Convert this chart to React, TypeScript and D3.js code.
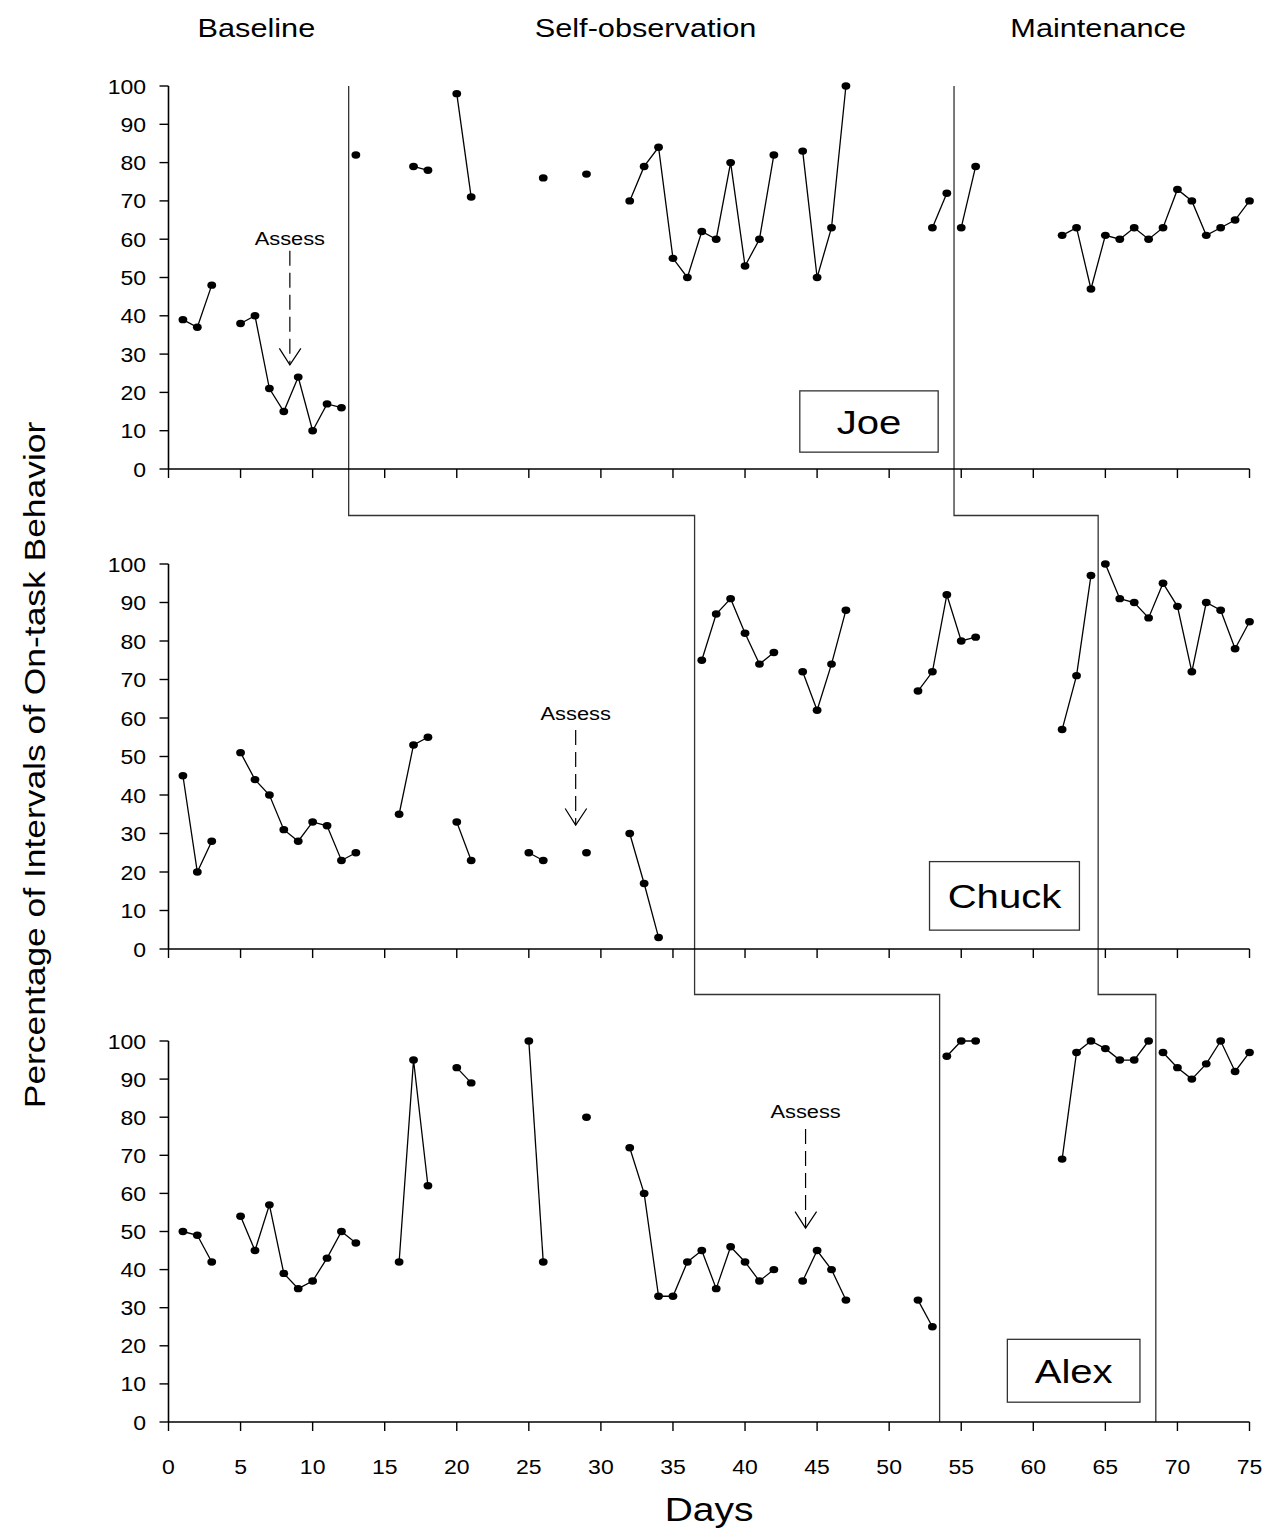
import React, { useEffect, useRef } from "react";
import * as d3 from "d3";

// ---------- data ----------
const phaseLabels = ["Baseline", "Self-observation", "Maintenance"];
const phaseLabelDays = [6.1, 33.1, 64.5];
const xTicks = [0, 5, 10, 15, 20, 25, 30, 35, 40, 45, 50, 55, 60, 65, 70, 75];
const yTicks = [0, 10, 20, 30, 40, 50, 60, 70, 80, 90, 100];

const joeDays = [1, 2, 3, 5, 6, 7, 8, 9, 10, 11, 12, 13, 17, 18, 20, 21, 26, 29, 32, 33, 34, 35, 36, 37, 38, 39, 40, 41, 42, 44, 45, 46, 47, 53, 54, 55, 56, 62, 63, 64, 65, 66, 67, 68, 69, 70, 71, 72, 73, 74, 75];
const joeValues = [39, 37, 48, 38, 40, 21, 15, 24, 10, 17, 16, 82, 79, 78, 98, 71, 76, 77, 70, 79, 84, 55, 50, 62, 60, 80, 53, 60, 82, 83, 50, 63, 100, 63, 72, 63, 79, 61, 63, 47, 61, 60, 63, 60, 63, 73, 70, 61, 63, 65, 70];
const joePhaseChanges = [12.5, 54.5];

const chuckDays = [1, 2, 3, 5, 6, 7, 8, 9, 10, 11, 12, 13, 16, 17, 18, 20, 21, 25, 26, 29, 32, 33, 34, 37, 38, 39, 40, 41, 42, 44, 45, 46, 47, 52, 53, 54, 55, 56, 62, 63, 64, 65, 66, 67, 68, 69, 70, 71, 72, 73, 74, 75];
const chuckValues = [45, 20, 28, 51, 44, 40, 31, 28, 33, 32, 23, 25, 35, 53, 55, 33, 23, 25, 23, 25, 30, 17, 3, 75, 87, 91, 82, 74, 77, 72, 62, 74, 88, 67, 72, 92, 80, 81, 57, 71, 97, 100, 91, 90, 86, 95, 89, 72, 90, 88, 78, 85];
const chuckPhaseChanges = [36.5, 64.5];

const alexDays = [1, 2, 3, 5, 6, 7, 8, 9, 10, 11, 12, 13, 16, 17, 18, 20, 21, 25, 26, 29, 32, 33, 34, 35, 36, 37, 38, 39, 40, 41, 42, 44, 45, 46, 47, 52, 53, 54, 55, 56, 62, 63, 64, 65, 66, 67, 68, 69, 70, 71, 72, 73, 74, 75];
const alexValues = [50, 49, 42, 54, 45, 57, 39, 35, 37, 43, 50, 47, 42, 95, 62, 93, 89, 100, 42, 80, 72, 60, 33, 33, 42, 45, 35, 46, 42, 37, 40, 37, 45, 40, 32, 32, 25, 96, 100, 100, 69, 97, 100, 98, 95, 95, 100, 97, 93, 90, 94, 100, 92, 97];
const alexPhaseChanges = [53.5, 68.5];

const names = ["Joe", "Chuck", "Alex"];
// assess annotations: [day, label value, arrow start value, arrow tip value]
const assessDays = [8.42, 28.25, 44.2];
const assessLabelValues = [58.5, 59.5, 79.9];
const assessStartValues = [57, 56.9, 76.9];
const assessTipValues = [27.2, 32.2, 50.9];
// name boxes in data units: [day0, day1, value top, value bottom]
const nameBoxDays = [[43.8, 53.4], [52.8, 63.2], [58.2, 67.4]];
const nameBoxValues = [[20.4, 4.4], [22.7, 4.9], [21.7, 5.2]];

// ---------- layout ----------
const W = 1275;
const H = 1531;
const FONT = "'Liberation Sans', Arial, Helvetica, sans-serif";
const SX = 1.18;
const panelTops = [86, 564, 1041];
const panelBottoms = [469, 949, 1422];
const connectorYs = [515.5, 994.5];

function segments(days: number[], vals: number[], phases: number[]) {
  const segs: [number, number][][] = [];
  let cur: [number, number][] = [];
  days.forEach((d, i) => {
    if (i > 0) {
      const prev = days[i - 1];
      const crosses = phases.some((p) => p > prev && p < d);
      if (d - prev !== 1 || crosses) {
        segs.push(cur);
        cur = [];
      }
    }
    cur.push([d, vals[i]]);
  });
  segs.push(cur);
  return segs;
}

export default function App() {
  const ref = useRef<SVGSVGElement>(null);

  useEffect(() => {
    const svg = d3.select(ref.current);
    svg.selectAll("*").remove();

    const x = d3.scaleLinear().domain([0, 75]).range([168.5, 1249.5]);

    const addText = (
      g: any,
      tx: number,
      ty: number,
      str: string,
      size: number,
      anchor: string,
      rotate = false
    ) =>
      g
        .append("text")
        .attr(
          "transform",
          `translate(${tx},${ty})${rotate ? " rotate(-90)" : ""} scale(${SX},1)`
        )
        .attr("text-anchor", anchor)
        .attr("font-size", size)
        .attr("font-family", FONT)
        .attr("fill", "#000")
        .text(str);

    // phase headers
    phaseLabels.forEach((t, i) => addText(svg, x(phaseLabelDays[i]), 37, t, 26, "middle"));

    const series = [
      { days: joeDays, vals: joeValues, phases: joePhaseChanges },
      { days: chuckDays, vals: chuckValues, phases: chuckPhaseChanges },
      { days: alexDays, vals: alexValues, phases: alexPhaseChanges },
    ];

    const yScales = panelTops.map((t, i) =>
      d3.scaleLinear().domain([0, 100]).range([panelBottoms[i], t])
    );

    // phase change staircase lines
    const phaseSets = series.map((s) => s.phases);
    [0, 1].forEach((k) => {
      const pts: [number, number][] = [];
      phaseSets.forEach((ph, i) => {
        const top = i === 0 ? panelTops[0] : connectorYs[i - 1];
        const bottom = i === 2 ? panelBottoms[2] : connectorYs[i];
        pts.push([x(ph[k]), top]);
        pts.push([x(ph[k]), bottom]);
      });
      svg
        .append("path")
        .attr("d", d3.line()(pts))
        .attr("fill", "none")
        .attr("stroke", "#333")
        .attr("stroke-width", 1.3);
    });

    series.forEach((s, i) => {
      const y = yScales[i];
      const g = svg.append("g");
      const x0 = x(0);

      // axes
      g.append("line")
        .attr("x1", x0)
        .attr("x2", x0)
        .attr("y1", y(100))
        .attr("y2", y(0))
        .attr("stroke", "#000")
        .attr("stroke-width", 1.6);
      g.append("line")
        .attr("x1", x0)
        .attr("x2", x(75))
        .attr("y1", y(0))
        .attr("y2", y(0))
        .attr("stroke", "#000")
        .attr("stroke-width", 1.6);

      yTicks.forEach((t) => {
        g.append("line")
          .attr("x1", x0 - 9)
          .attr("x2", x0)
          .attr("y1", y(t))
          .attr("y2", y(t))
          .attr("stroke", "#000")
          .attr("stroke-width", 1.4);
        addText(g, x0 - 22.5, y(t) + 7.5, String(t), 19.5, "end");
      });
      xTicks.forEach((t) => {
        g.append("line")
          .attr("x1", x(t))
          .attr("x2", x(t))
          .attr("y1", y(0))
          .attr("y2", y(0) + 9)
          .attr("stroke", "#000")
          .attr("stroke-width", 1.4);
        if (i === 2) addText(g, x(t), y(0) + 52, String(t), 19.5, "middle");
      });

      // data
      const line = d3
        .line<[number, number]>()
        .x((d) => x(d[0]))
        .y((d) => y(d[1]));
      segments(s.days, s.vals, s.phases).forEach((seg) => {
        if (seg.length > 1)
          g.append("path")
            .attr("d", line(seg))
            .attr("fill", "none")
            .attr("stroke", "#000")
            .attr("stroke-width", 1.3);
      });
      g.selectAll("ellipse.pt")
        .data(s.days.map((d, k) => [d, s.vals[k]]))
        .enter()
        .append("ellipse")
        .attr("cx", (d: number[]) => x(d[0]))
        .attr("cy", (d: number[]) => y(d[1]))
        .attr("rx", 4.4)
        .attr("ry", 3.7)
        .attr("fill", "#000");

      // assess annotation
      const ax = x(assessDays[i]);
      addText(g, ax, y(assessLabelValues[i]), "Assess", 18.5, "middle");
      g.append("line")
        .attr("x1", ax)
        .attr("x2", ax)
        .attr("y1", y(assessStartValues[i]))
        .attr("y2", y(assessTipValues[i]))
        .attr("stroke", "#000")
        .attr("stroke-width", 1.2)
        .attr("stroke-dasharray", "15,7");
      const tip = y(assessTipValues[i]);
      g.append("path")
        .attr(
          "d",
          d3.line()([
            [ax - 10.5, tip - 16.5],
            [ax, tip],
            [ax + 11, tip - 16.5],
          ])
        )
        .attr("fill", "none")
        .attr("stroke", "#000")
        .attr("stroke-width", 1.2);

      // name box
      const bx0 = x(nameBoxDays[i][0]);
      const bx1 = x(nameBoxDays[i][1]);
      const by0 = y(nameBoxValues[i][0]);
      const by1 = y(nameBoxValues[i][1]);
      g.append("rect")
        .attr("x", bx0)
        .attr("y", by0)
        .attr("width", bx1 - bx0)
        .attr("height", by1 - by0)
        .attr("fill", "#fff")
        .attr("stroke", "#333")
        .attr("stroke-width", 1.3);
      addText(g, (bx0 + bx1) / 2, (by0 + by1) / 2 + 12.5, names[i], 34, "middle");
    });

    // axis titles
    addText(svg, x(37.5), 1521, "Days", 33, "middle");
    addText(svg, 45, 765, "Percentage of Intervals of On-task Behavior", 30, "middle", true);
  }, []);

  return (
    <svg
      ref={ref}
      width={W}
      height={H}
      style={{ position: "absolute", left: 0, top: 0, background: "#fff" }}
    />
  );
}
